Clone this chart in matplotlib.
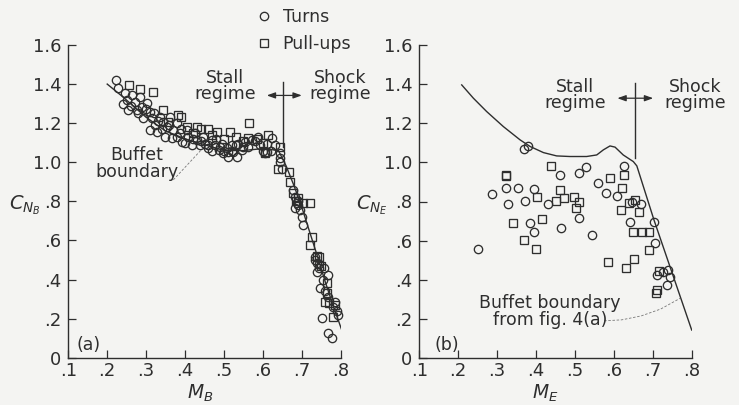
import matplotlib
matplotlib.use("Agg")
import matplotlib.pyplot as plt
from matplotlib.lines import Line2D

# ---------------- data ----------------
# Panel (a): M_B vs C_NB
turns_a_M = [0.223,0.229,0.246,0.250,0.263,0.254,0.271,0.284,0.276,0.289,0.301,0.293,0.310,0.314,0.310,0.323,0.336,0.327,0.344,0.353,
             0.348,0.361,0.370,0.366,0.379,0.387,0.391,0.404,0.408,0.417,0.426,0.430,0.438,0.447,0.451,0.460,0.468,0.477,0.486,0.494,
             0.498,0.507,0.511,0.520,0.524,0.533,0.537,0.546,0.554,0.563,0.571,0.588,0.593,0.606,0.610,0.623,0.644,0.644,0.648,0.678,
             0.682,0.687,0.682,0.696,0.700,0.704,0.734,0.738,0.743,0.756,0.768,0.747,0.768,0.786,0.794,0.751,0.768,0.777,
             0.24,0.26,0.28,0.30,0.32,0.33,0.34,0.36,0.38,0.39,0.40,0.42,0.44,0.46,0.47,0.48,0.49,0.50,0.51,0.52,
             0.53,0.55,0.58,0.60,0.61,0.62,0.63,0.645,0.69,0.69,0.735,0.74,0.745,0.76,0.78,0.79,0.755]
turns_a_C = [1.420,1.378,1.352,1.318,1.344,1.267,1.309,1.335,1.267,1.284,1.301,1.224,1.258,1.224,1.165,1.190,1.233,1.156,1.207,1.182,
             1.130,1.233,1.165,1.122,1.199,1.148,1.105,1.165,1.130,1.088,1.148,1.113,1.088,1.130,1.096,1.071,1.113,1.088,1.062,1.096,
             1.045,1.071,1.028,1.088,1.054,1.028,1.096,1.062,1.105,1.079,1.113,1.130,1.088,1.045,1.096,1.122,1.045,1.003,0.968,0.858,
             0.824,0.789,0.764,0.755,0.721,0.679,0.517,0.483,0.457,0.457,0.423,0.355,0.312,0.286,0.218,0.201,0.124,0.099,
             1.30,1.29,1.25,1.27,1.25,1.21,1.17,1.19,1.13,1.17,1.10,1.12,1.11,1.09,1.06,1.12,1.08,1.06,1.05,1.06,
             1.09,1.08,1.11,1.06,1.05,1.06,1.09,1.02,0.80,0.78,0.50,0.44,0.48,0.34,0.26,0.24,0.40]
pull_a_M = [0.257,0.284,0.318,0.344,0.383,0.357,0.404,0.430,0.460,0.481,0.516,0.565,0.563,0.614,0.606,0.640,0.666,0.670,0.677,0.691,
            0.721,0.704,0.726,0.721,0.745,0.764,0.760,0.786,0.781,
            0.39,0.42,0.44,0.47,0.50,0.53,0.55,0.585,0.60,0.605,0.685,0.74,0.75,0.765,0.77,0.645]
pull_a_C = [1.395,1.373,1.361,1.267,1.241,1.207,1.182,1.182,1.168,1.156,1.156,1.202,1.122,1.139,1.045,0.968,0.951,0.900,0.841,0.815,
            0.789,0.789,0.619,0.576,0.517,0.380,0.286,0.269,0.210,
            1.23,1.15,1.17,1.14,1.12,1.13,1.11,1.12,1.10,1.05,0.80,0.52,0.47,0.33,0.28,1.08]
bound_a_M = [0.20,0.24,0.30,0.35,0.40,0.45,0.50,0.55,0.60,0.64,0.66,0.68,0.70,0.72,0.74,0.76,0.78,0.803]
bound_a_C = [1.40,1.335,1.23,1.16,1.12,1.09,1.06,1.06,1.07,1.06,0.98,0.88,0.77,0.645,0.52,0.39,0.27,0.14]

# Panel (b): M_E vs C_NE
turns_b_M = [0.250,0.288,0.323,0.329,0.353,0.372,0.368,0.380,0.385,0.395,0.395,0.432,0.462,0.463,0.511,0.528,0.511,0.543,0.559,0.580,
             0.607,0.626,0.642,0.646,0.669,0.703,0.706,0.712,0.727,0.740,0.743,0.736]
turns_b_C = [0.559,0.839,0.868,0.786,0.868,0.803,1.067,1.084,0.692,0.864,0.646,0.786,0.936,0.667,0.945,0.974,0.714,0.631,0.895,0.842,
             0.830,0.979,0.696,0.800,0.788,0.696,0.587,0.425,0.441,0.450,0.416,0.373]
pull_b_M = [0.323,0.324,0.342,0.369,0.399,0.402,0.416,0.438,0.451,0.462,0.473,0.498,0.503,0.511,0.586,0.590,0.618,0.622,0.627,0.631,
            0.653,0.640,0.654,0.648,0.665,0.672,0.689,0.689,0.717,0.710,0.707]
pull_b_C = [0.931,0.937,0.692,0.604,0.558,0.825,0.709,0.979,0.803,0.859,0.817,0.825,0.769,0.795,0.489,0.919,0.757,0.868,0.936,0.459,
            0.505,0.791,0.808,0.646,0.748,0.646,0.646,0.552,0.447,0.348,0.331]
bound_b_M = [0.209,0.239,0.273,0.316,0.359,0.385,0.419,0.453,0.487,0.530,0.556,0.573,0.590,0.603,0.624,0.650,0.659,0.703,0.800]
bound_b_C = [1.396,1.328,1.260,1.183,1.115,1.081,1.050,1.033,1.030,1.030,1.038,1.064,1.084,1.078,1.038,1.004,0.982,0.706,0.143]
leader_b_M = [0.575,0.62,0.67,0.72,0.77]
leader_b_C = [0.19,0.195,0.215,0.25,0.305]

xticks = [0.1,0.2,0.3,0.4,0.5,0.6,0.7,0.8]
xtick_labels = [".1",".2",".3",".4",".5",".6",".7",".8"]
yticks = [0,0.2,0.4,0.6,0.8,1.0,1.2,1.4,1.6]
ytick_labels = ["0",".2",".4",".6",".8","1.0","1.2","1.4","1.6"]

# ---------------- style ----------------
BG = "#f4f4f2"
INK = "#2e2e2e"
FONT = ["Liberation Sans Narrow", "DejaVu Sans"]
plt.rcParams["font.family"] = FONT

W, H = 739, 405
fig = plt.figure(figsize=(W/100, H/100), dpi=100, facecolor=BG)

def fx(px):
    return px / W

def fy(py):
    return 1 - py / H

ax_a = fig.add_axes([fx(68.3), fy(357.7), 272.4/W, 312.7/H])
ax_b = fig.add_axes([fx(419.3), fy(358.0), 272.4/W, 313.0/H])

mk = dict(linestyle="none", markersize=6.0, markerfacecolor="none",
          markeredgecolor=INK, markeredgewidth=0.95)

for ax in (ax_a, ax_b):
    ax.set_facecolor(BG)
    ax.set_xlim(0.1, 0.8)
    ax.set_ylim(0, 1.6)
    for s in ("top", "right"):
        ax.spines[s].set_visible(False)
    for s in ("left", "bottom"):
        ax.spines[s].set_color(INK)
        ax.spines[s].set_linewidth(1.0)
    ax.set_xticks(xticks)
    ax.set_xticklabels(xtick_labels)
    ax.set_yticks(yticks)
    ax.set_yticklabels(ytick_labels)
    ax.tick_params(direction="in", length=6, width=0.9, color=INK,
                   labelcolor=INK, labelsize=13)
    ax.tick_params(axis="x", pad=3)
    ax.tick_params(axis="y", pad=5)

# panel (a)
ax_a.plot(bound_a_M, bound_a_C, color=INK, lw=1.0, zorder=2)
ax_a.plot(turns_a_M, turns_a_C, marker="o", zorder=3, clip_on=False, **mk)
ax_a.plot(pull_a_M, pull_a_C, marker="s", zorder=3, clip_on=False, **mk)
ax_a.plot([0.653, 0.653], [1.08, 1.412], color=INK, lw=1.0)
ax_a.annotate("", xy=(0.61, 1.342), xytext=(0.70, 1.342),
              arrowprops=dict(arrowstyle="<|-|>,head_length=0.5,head_width=0.18",
                              color=INK, lw=0.9, shrinkA=0, shrinkB=0))
ax_a.text(0.503, 1.39, "Stall\nregime", ha="center", va="center",
          fontsize=12.5, color=INK, linespacing=0.9)
ax_a.text(0.798, 1.39, "Shock\nregime", ha="center", va="center",
          fontsize=12.5, color=INK, linespacing=0.9, clip_on=False)
ax_a.text(0.276, 0.995, "Buffet\nboundary", ha="center", va="center",
          fontsize=12.5, color=INK, linespacing=0.9)
ax_a.plot([0.37, 0.44], [0.91, 1.06], color="#777777", lw=0.6, ls=(0, (3, 2)))
ax_a.text(0.12, 0.065, "(a)", ha="left", va="center", fontsize=12.5, color=INK)

# panel (b)
ax_b.plot(bound_b_M, bound_b_C, color=INK, lw=1.0, zorder=2)
ax_b.plot(turns_b_M, turns_b_C, marker="o", zorder=3, **mk)
ax_b.plot(pull_b_M, pull_b_C, marker="s", zorder=3, **mk)
ax_b.plot([0.655, 0.655], [1.021, 1.405], color=INK, lw=1.0)
ax_b.annotate("", xy=(0.609, 1.328), xytext=(0.701, 1.328),
              arrowprops=dict(arrowstyle="<|-|>,head_length=0.5,head_width=0.18",
                              color=INK, lw=0.9, shrinkA=0, shrinkB=0))
ax_b.text(0.50, 1.345, "Stall\nregime", ha="center", va="center",
          fontsize=12.5, color=INK, linespacing=0.9)
ax_b.text(0.809, 1.345, "Shock\nregime", ha="center", va="center",
          fontsize=12.5, color=INK, linespacing=0.9, clip_on=False)
ax_b.text(0.436, 0.237, "Buffet boundary\nfrom fig. 4(a)", ha="center", va="center",
          fontsize=12.5, color=INK, linespacing=0.9)
ax_b.plot(leader_b_M, leader_b_C, color="#777777", lw=0.6, ls=(0, (3, 2)))
ax_b.text(0.14, 0.066, "(b)", ha="left", va="center", fontsize=12.5, color=INK)

# axis labels
fig.text(fx(25), fy(205), r"$C_{N_B}$", ha="center", va="center", fontsize=14, color=INK)
fig.text(fx(372), fy(205), r"$C_{N_E}$", ha="center", va="center", fontsize=14, color=INK)
fig.text(fx(200), fy(393), r"$M_B$", ha="center", va="center", fontsize=13.5, color=INK)
fig.text(fx(545), fy(393), r"$M_E$", ha="center", va="center", fontsize=13.5, color=INK)

# legend
handles = [Line2D([], [], marker="o", **mk), Line2D([], [], marker="s", **mk)]
fig.legend(handles, ["Turns", "Pull-ups"], loc="upper left",
           bbox_to_anchor=(fx(248), fy(1)), frameon=False, fontsize=12.5,
           handlelength=1.0, handletextpad=0.6, labelspacing=0.55,
           labelcolor=INK, borderaxespad=0)

fig.savefig("out.png", dpi=100, facecolor=BG)
